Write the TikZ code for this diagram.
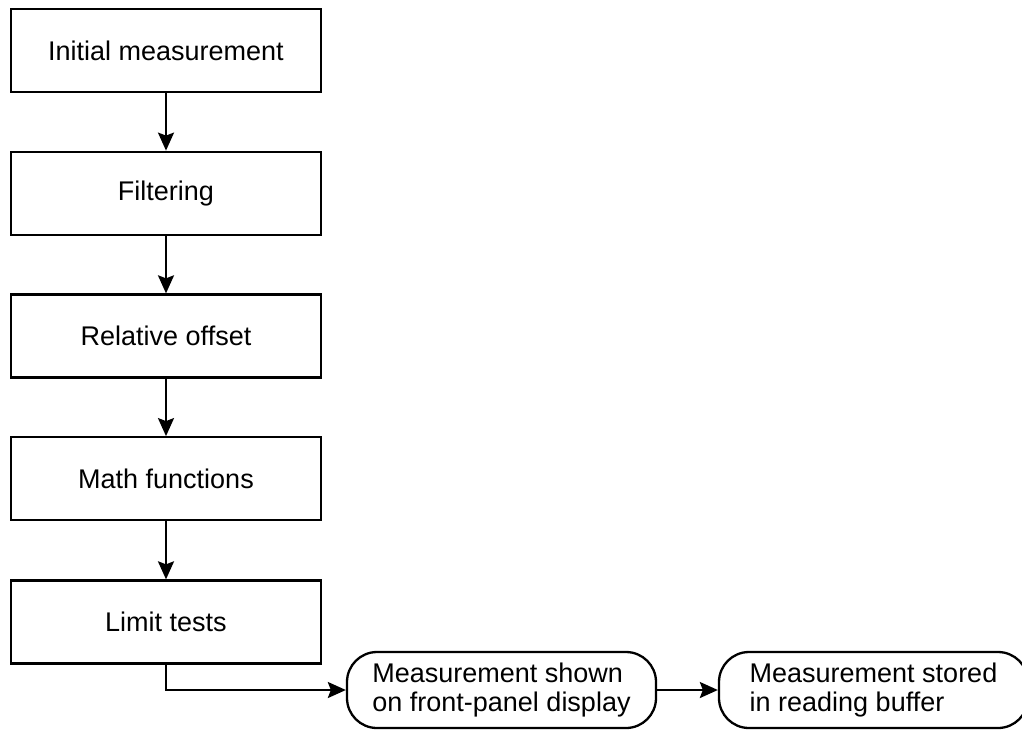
\documentclass[tikz,border=0pt]{standalone}
\usepackage{fontspec}
\setmainfont{Liberation Sans}
\usepackage{tikz}
\usetikzlibrary{arrows.meta,positioning}
\tikzset{
  procbox/.style={draw=black, line width=1.15pt, fill=white,
    minimum width=155pt, minimum height=41.5pt, align=center,
    inner sep=0pt, font=\fontsize{13.5}{15}\selectfont},
  outpill/.style={draw=black, line width=1.15pt, rounded corners=15pt,
    minimum width=154.5pt, minimum height=38pt, align=left,
    inner sep=0pt, font=\fontsize{13.5}{14.2}\selectfont},
  flow/.style={-{Stealth[length=9pt, width=8pt, inset=1.5pt]}, line width=1.15pt}
}

\begin{document}
\begin{tikzpicture}[x=0.5pt, y=-0.5pt]
  \useasboundingbox (0,0) rectangle (1022,729);
  % processing chain
  \node[procbox] (init)  at (166,50.5)  {Initial measurement};
  \node[procbox] (filt)  at (166,193.25) {Filtering};
  \node[procbox] (rel)   at (166,336)   {Relative offset};
  \node[procbox] (math)  at (166,478.75) {Math functions};
  \node[procbox] (lim)   at (166,622)   {Limit tests};
  \draw[flow] (init) -- (filt);
  \draw[flow] (filt) -- (rel);
  \draw[flow] (rel) -- (math);
  \draw[flow] (math) -- (lim);

  % outputs
  \node[outpill] (shown)  at (501.5,690) {Measurement shown\\on front-panel display};
  \node[outpill] (stored) at (873.5,690) {Measurement stored\\in reading buffer};
  \draw[flow] (lim.south) |- (shown.west);
  \draw[flow] (shown) -- (stored);
\end{tikzpicture}
\end{document}
